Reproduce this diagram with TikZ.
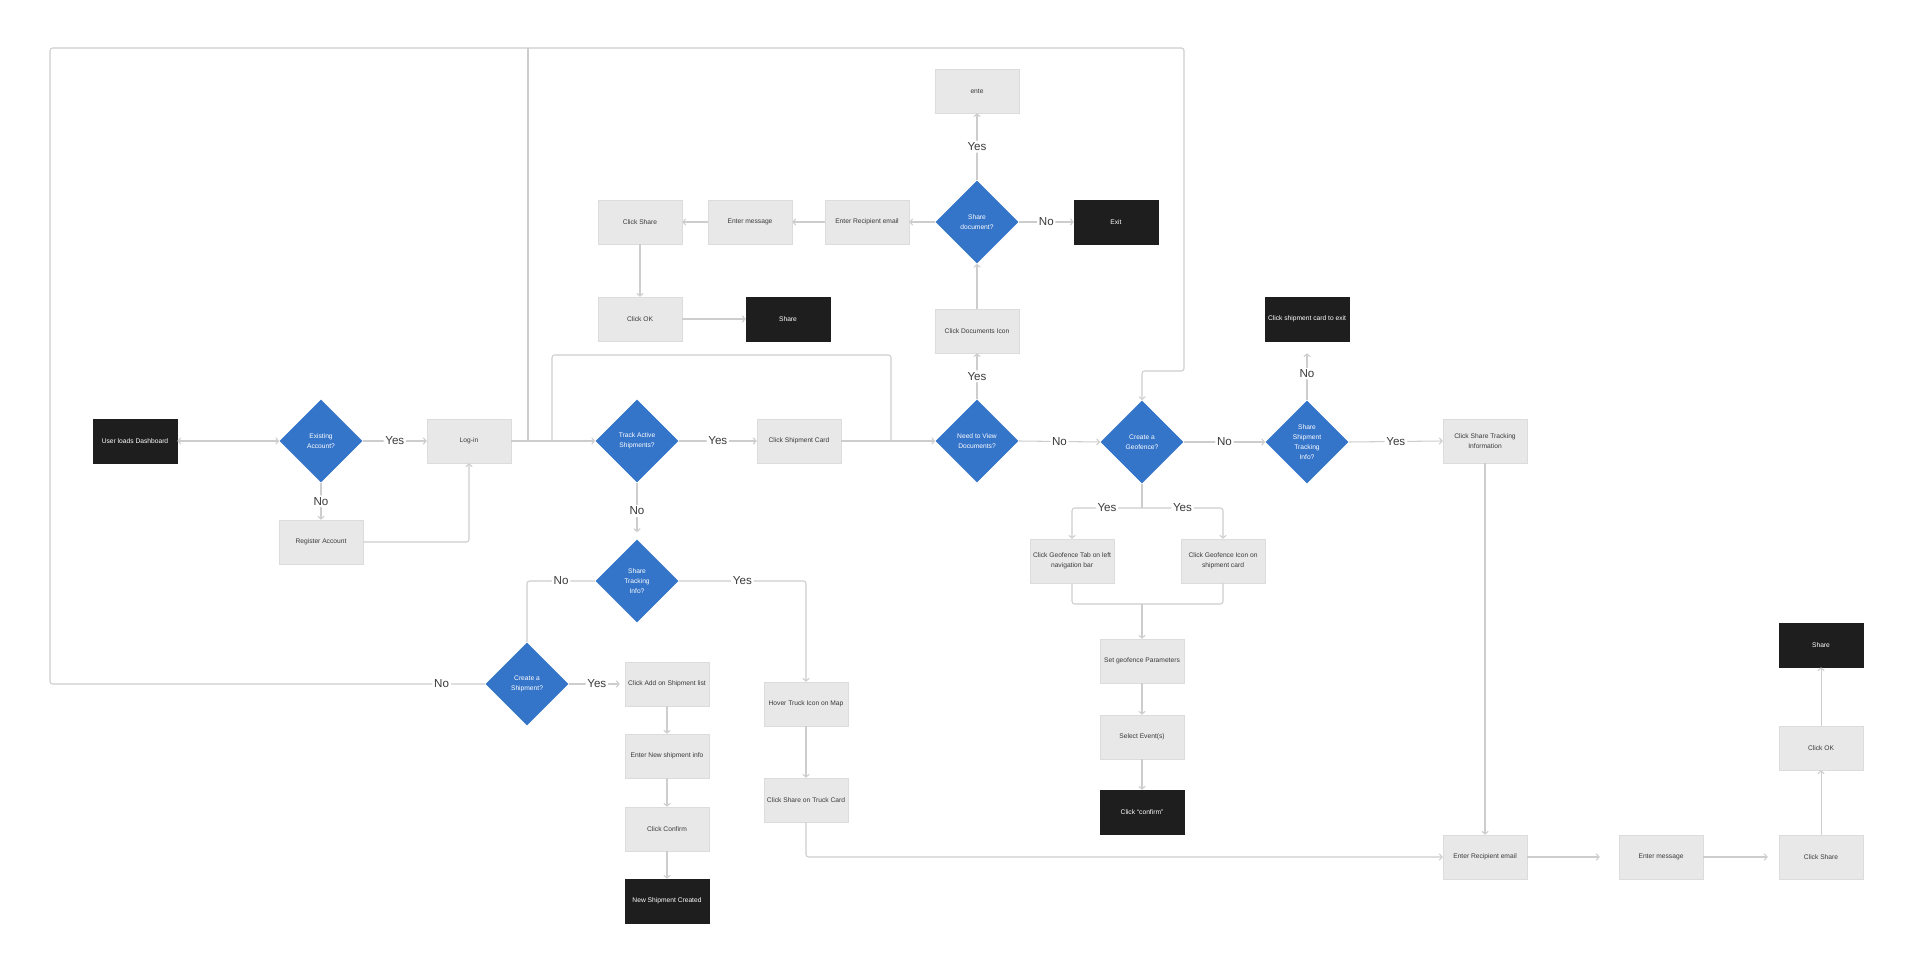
\documentclass[tikz,border=0pt]{standalone}
\usepackage{fontspec}
\setmainfont{Liberation Sans}
\usetikzlibrary{shapes.geometric,arrows.meta}
\definecolor{boxgray}{HTML}{E8E8E8}
\definecolor{boxedge}{HTML}{DCDCDC}
\definecolor{boxblack}{HTML}{1E1E1E}
\definecolor{decblue}{HTML}{3474C9}
\definecolor{linegray}{HTML}{CDCDCD}
\definecolor{txtgray}{HTML}{3A3A3A}
\tikzset{
  flownode/.style = {align=center, inner sep=0pt, text centered, minimum width=1.68cm, minimum height=0.88cm, font=\fontsize{3.8}{5.7}\selectfont},
  box_g/.style = {flownode, rectangle, fill=boxgray, draw=boxedge, line width=0.3pt, text=txtgray},
  box_k/.style = {flownode, rectangle, fill=boxblack, draw=boxblack, line width=0.3pt, text=white},
  dec_b/.style = {flownode, diamond, minimum width=1.66cm, minimum height=1.66cm, fill=decblue, text=white},
  wire/.style = {draw=linegray, line width=0.6pt, rounded corners=1.5pt},
  flow/.style = {wire, -{Straight Barb[length=1.6pt,width=3.6pt]}},
  flow_both/.style = {wire, {Straight Barb[length=1.6pt,width=3.6pt]}-{Straight Barb[length=1.6pt,width=3.6pt]}},
  lbl/.style = {fill=white, inner sep=1pt, text=txtgray, font=\fontsize{6.6}{7.4}\selectfont},
}
\begin{document}
\begin{tikzpicture}[x=0.02cm, y=-0.02cm]
  \useasboundingbox (0,0) rectangle (1922,972);
  % main row
  \node [box_k] (uld) at (135,441) {User loads Dashboard};
  \node [dec_b] (ea) at (321,441) {Existing\\Account?};
  \node [box_g] (login) at (469,441) {Log-in};
  \node [box_g] (reg) at (321,542) {Register Account};
  \node [dec_b] (tas) at (637,441) {Track Active\\Shipments?};
  \node [box_g] (csc) at (799,441) {Click Shipment Card};
  \node [dec_b] (nvd) at (977,441) {Need to View\\Documents?};
  \node [dec_b] (cg) at (1142,442) {Create a\\Geofence?};
  \node [dec_b] (ssti) at (1307,442) {Share\\Shipment\\Tracking\\Info?};
  \node [box_g] (csti) at (1485,441) {Click Share Tracking\\Information};
  \node [box_k] (cse) at (1307,319) {Click shipment card to exit};
  % documents
  \node [box_g] (cdi) at (977,331) {Click Documents Icon};
  \node [dec_b] (sd) at (977,222) {Share\\document?};
  \node [box_g] (ente) at (977,91) {ente};
  \node [box_k] (exit) at (1116,222) {Exit};
  \node [box_g] (ere_d) at (867,222) {Enter Recipient email};
  \node [box_g] (em_d) at (750,222) {Enter message};
  \node [box_g] (cs_d) at (640,222) {Click Share};
  \node [box_g] (ok_d) at (640,319) {Click OK};
  \node [box_k] (sh_d) at (788,319) {Share};
  % geofence
  \node [box_g] (cgt) at (1072,561) {Click Geofence Tab on left\\navigation bar};
  \node [box_g] (cgi) at (1223,561) {Click Geofence Icon on\\shipment card};
  \node [box_g] (sgp) at (1142,661) {Set geofence Parameters};
  \node [box_g] (sev) at (1142,737) {Select Event(s)};
  \node [box_k] (ccf_g) at (1142,812) {Click ``confirm''};
  % tracking / new shipment
  \node [dec_b] (sti) at (637,581) {Share\\Tracking\\Info?};
  \node [dec_b] (csh) at (527,684) {Create a\\Shipment?};
  \node [box_g] (cas) at (667,684) {Click Add on Shipment list};
  \node [box_g] (ens) at (667,756) {Enter New shipment info};
  \node [box_g] (ccf) at (667,829) {Click Confirm};
  \node [box_k] (nsc) at (667,901) {New Shipment Created};
  \node [box_g] (htm) at (806,704) {Hover Truck Icon on Map};
  \node [box_g] (cst) at (806,800) {Click Share on Truck Card};
  % share tracking
  \node [box_g] (ere_s) at (1485,857) {Enter Recipient email};
  \node [box_g] (em_s) at (1661,857) {Enter message};
  \node [box_g] (cs_s) at (1821,857) {Click Share};
  \node [box_g] (ok_s) at (1821,748) {Click OK};
  \node [box_k] (sh_s) at (1821,645) {Share};

  \coordinate (frame_sw) at (50,684);
  \coordinate (frame_nw) at (50,48);
  \coordinate (frame_ne) at (1184,48);
  \coordinate (frame_se) at (1184,371);
  \coordinate (join_top) at (528,48);
  \coordinate (loop_l) at (552,441);
  \coordinate (loop_r) at (891,441);
  \coordinate (cg_fork) at (1142,508);
  \coordinate (cg_merge) at (1142,604);

  \draw [flow_both] (ea.west) -- (uld.east);
  \draw [flow] (ea.east) -- node[lbl]{Yes} (login.west);
  \draw [flow] (ea.south) -- node[lbl]{No} (reg.north);
  \draw [flow] (reg.east) -| (login.south);
  \draw [flow] (login.east) -- (tas.west);
  \draw [wire] (join_top) -- (join_top |- login.east);
  \draw [wire] (loop_l) -- ++(0,-86) -| (loop_r);
  \draw [flow] (tas.east) -- node[lbl]{Yes} (csc.west);
  \draw [flow] (csc.east) -- (nvd.west);
  \draw [flow] (nvd.north) -- node[lbl]{Yes} (cdi.south);
  \draw [flow] (cdi.north) -- (sd.south);
  \draw [flow] (sd.north) -- node[lbl]{Yes} (ente.south);
  \draw [flow] (sd.east) -- node[lbl]{No} (exit.west);
  \draw [flow] (sd.west) -- (ere_d.east);
  \draw [flow] (ere_d.west) -- (em_d.east);
  \draw [flow] (em_d.west) -- (cs_d.east);
  \draw [flow] (cs_d.south) -- (ok_d.north);
  \draw [flow] (ok_d.east) -- (sh_d.west);
  \draw [flow] (nvd.east) -- node[lbl]{No} (cg.west);
  \draw [flow] (cg.east) -- node[lbl]{No} (ssti.west);
  \draw [flow] (ssti.east) -- node[lbl]{Yes} (csti.west);
  \draw [flow, shorten >=0.24cm] (ssti.north) -- node[lbl, pos=0.45]{No} (cse.south);
  % geofence branch
  \draw [wire] (cg.south) -- (cg_fork);
  \draw [flow] (cg_fork) -| node[lbl, pos=0.25]{Yes} (cgt.north);
  \draw [flow] (cg_fork) -| node[lbl, pos=0.25]{Yes} (cgi.north);
  \draw [wire] (cgt.south) |- (cg_merge) -| (cgi.south);
  \draw [flow] (cg_merge) -- (sgp.north);
  \draw [flow] (sgp.south) -- (sev.north);
  \draw [flow] (sev.south) -- (ccf_g.north);
  % share tracking info / create shipment
  \draw [flow, shorten >=0.14cm] (tas.south) -- node[lbl]{No} (sti.north);
  \draw [wire] (sti.west) -| node[lbl, pos=0.25]{No} (csh.north);
  \draw [flow] (sti.east) -| node[lbl, pos=0.25]{Yes} (htm.north);
  \draw [flow, shorten >=0.1cm] (csh.east) -- node[lbl]{Yes} (cas.west);
  \draw [flow] (cas.south) -- (ens.north);
  \draw [flow] (ens.south) -- (ccf.north);
  \draw [flow] (ccf.south) -- (nsc.north);
  \draw [flow] (htm.south) -- (cst.north);
  \draw [flow] (cst.south) |- (ere_s.west);
  \draw [flow] (csti.south) -- (ere_s.north);
  \draw [flow, shorten >=0.38cm] (ere_s.east) -- (em_s.west);
  \draw [flow, shorten >=0.22cm] (em_s.east) -- (cs_s.west);
  \draw [flow] (cs_s.north) -- (ok_s.south);
  \draw [flow] (ok_s.north) -- (sh_s.south);
  % outer loop
  \draw [flow] (csh.west) -- node[lbl, pos=0.1]{No} (frame_sw) -- (frame_nw)
    -- (frame_ne) -- (frame_se) -| (cg.north);
\end{tikzpicture}
\end{document}
